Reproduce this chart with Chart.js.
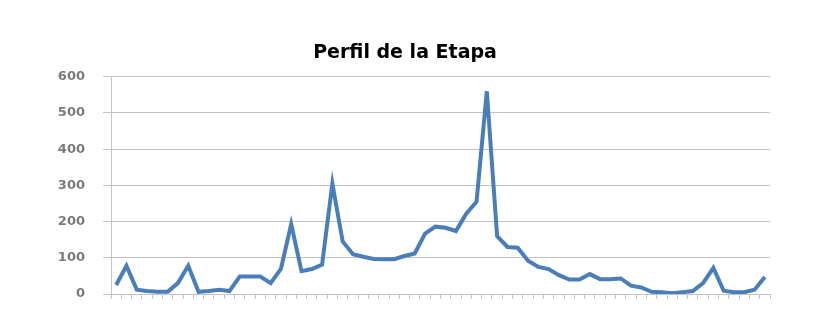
<!DOCTYPE html>
<html>
<head>
<meta charset="utf-8">
<script src="https://cdn.jsdelivr.net/npm/chart.js@4/dist/chart.umd.min.js"></script>
<style>
  html, body { margin: 0; padding: 0; background: #fff; }
  #wrap { width: 823px; height: 329px; }
</style>
</head>
<body>
<div id="wrap"><canvas id="perfil"></canvas></div>
<script>
// Stage profile values, one per kilometre marker
const alturas = [
  25, 78, 12, 8, 6, 6, 30, 78, 6, 8,
  12, 8, 48, 48, 48, 30, 69, 193, 63, 69,
  81, 305, 145, 110, 103, 97, 96, 96, 105, 112,
  167, 186, 183, 174, 222, 255, 560, 160, 130, 128,
  92, 75, 69, 52, 40, 40, 55, 41, 41, 43,
  23, 18, 6, 5, 2, 5, 8, 30, 72, 9,
  5, 5, 12, 47
];
const puntos = alturas.map((_, i) => String(i + 1));
const yTicks = [0, 100, 200, 300, 400, 500, 600];

const gris = '#c3c3c3';
const azul = '#4a7ebb';

new Chart(document.getElementById('perfil'), {
  type: 'line',
  data: {
    labels: puntos,
    datasets: [{
      data: alturas,
      borderColor: azul,
      borderWidth: 4,
      pointRadius: 0,
      tension: 0,
      fill: false
    }]
  },
  options: {
    responsive: true,
    maintainAspectRatio: false,
    animation: false,
    // left/right padding chosen so the title centres where the original one sits
    layout: { padding: { left: 40, right: 53, top: 0, bottom: 0 } },
    plugins: {
      legend: { display: false },
      tooltip: { enabled: false },
      title: {
        display: true,
        text: 'Perfil de la Etapa',
        color: '#000',
        font: { family: '"DejaVu Sans", sans-serif', size: 19, weight: 'bold' },
        padding: { top: 42, bottom: 12 }
      }
    },
    scales: {
      x: {
        offset: true,
        grid: {
          offset: true,
          drawOnChartArea: false,
          drawTicks: true,
          tickLength: 5,
          color: gris
        },
        border: { display: true, color: gris },
        ticks: { display: false, autoSkip: false },
        afterFit: (scale) => { scale.height = 35; }
      },
      y: {
        min: 0,
        max: 600,
        afterBuildTicks: (scale) => { scale.ticks = yTicks.map(v => ({ value: v })); },
        grid: { color: gris, lineWidth: 1, tickLength: 8 },
        border: { display: true, color: gris },
        ticks: {
          color: '#7a7a7a',
          padding: 18,
          font: { family: '"DejaVu Sans", sans-serif', size: 13, weight: 'bold' }
        },
        afterFit: (scale) => { scale.width = 71; }
      }
    }
  }
});
</script>
</body>
</html>
